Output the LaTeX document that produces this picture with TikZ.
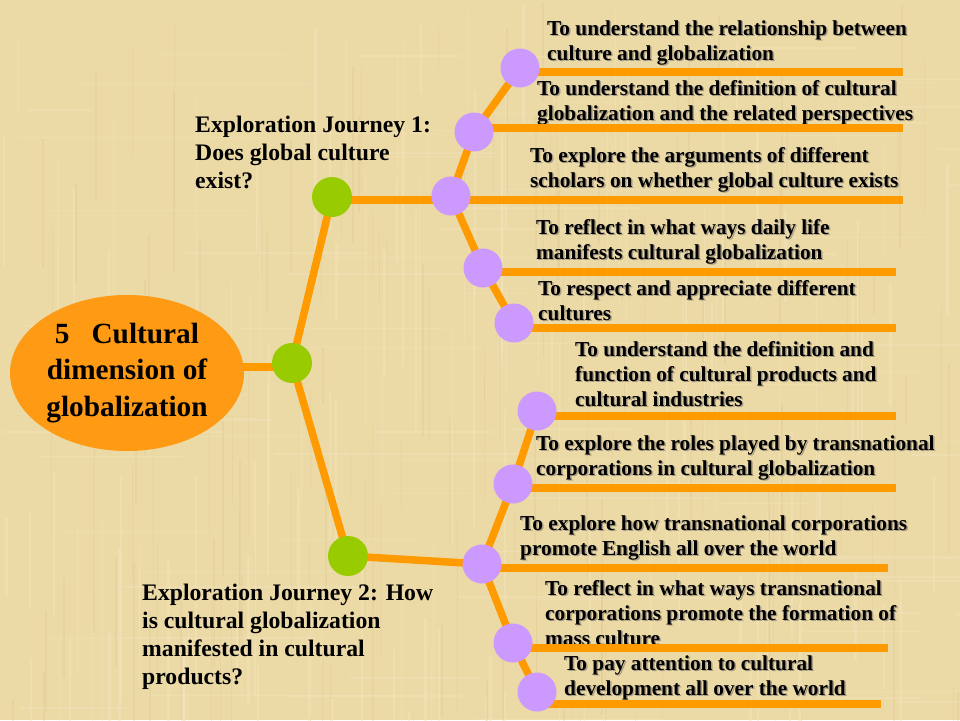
\documentclass[tikz,border=0pt]{standalone}
\usepackage{fontspec}
\setmainfont{Liberation Serif}
\usetikzlibrary{shapes.geometric}
\definecolor{bgc}{HTML}{EBD9A6}
\definecolor{bgl}{HTML}{F4E6BD}
\definecolor{bgd}{HTML}{D9C58E}
\definecolor{org}{HTML}{FF9A00}
\definecolor{ellc}{HTML}{FF9A14}
\definecolor{grn}{HTML}{99CC00}
\definecolor{pur}{HTML}{CC99FF}
\definecolor{shc}{HTML}{A99E85}
\newcommand\shad[1]{\leavevmode\rlap{\hspace{1.5pt}\raisebox{-1.5pt}{\color{shc}\begin{tabular}[t]{@{}l@{}}#1\end{tabular}}}\begin{tabular}[t]{@{}l@{}}#1\end{tabular}}
\newcommand\plainlines[1]{\begin{tabular}[t]{@{}l@{}}#1\end{tabular}}
\pgfdeclarelayer{back}
\pgfdeclarelayer{textl}
\pgfdeclarelayer{linel}
\pgfsetlayers{back,textl,linel,main}
\begin{document}
\begin{tikzpicture}[x=1pt,y=-1pt,
  bar/.style={draw=org,line width=7.5pt},
  gdot/.style={circle,fill=grn,minimum size=40pt,inner sep=0pt},
  pdot/.style={circle,fill=pur,minimum size=39pt,inner sep=0pt},
  item/.style={anchor=base west,inner sep=0pt,font=\fontsize{21.3}{25}\selectfont\bfseries},
  journey/.style={anchor=base west,inner sep=0pt,font=\fontsize{23.7}{28}\selectfont\bfseries}]
\useasboundingbox (0,0) rectangle (960,720);
\begin{pgfonlayer}{back}
\fill[bgc] (0,0) rectangle (960,720);
\pgfmathsetseed{7}
\foreach \i in {1,...,140}{
  \pgfmathsetmacro{\xx}{rnd*960}
  \pgfmathsetmacro{\yy}{rnd*720}
  \pgfmathsetmacro{\ll}{60+rnd*200}
  \pgfmathsetmacro{\ww}{0.8+rnd*2}
  \draw[bgl,opacity=0.45,line width=\ww pt] (\xx,\yy) -- ++(0,\ll);
}
\foreach \i in {1,...,140}{
  \pgfmathsetmacro{\xx}{rnd*960}
  \pgfmathsetmacro{\yy}{rnd*720}
  \pgfmathsetmacro{\ll}{40+rnd*160}
  \pgfmathsetmacro{\ww}{0.6+rnd*1.5}
  \draw[bgd,opacity=0.25,line width=\ww pt] (\xx,\yy) -- ++(0,\ll);
}
\foreach \i in {1,...,90}{
  \pgfmathsetmacro{\xx}{rnd*960}
  \pgfmathsetmacro{\yy}{rnd*720}
  \pgfmathsetmacro{\ll}{60+rnd*200}
  \pgfmathsetmacro{\ww}{0.6+rnd*1.5}
  \draw[bgl,opacity=0.35,line width=\ww pt] (\xx,\yy) -- ++(\ll,0);
}
\end{pgfonlayer}

% ellipse and hubs
\node[ellipse,fill=ellc,minimum width=234pt,minimum height=156pt,inner sep=0pt,
  align=center,font=\fontsize{29.3}{36.5}\selectfont\bfseries] (ell) at (127,373)
  {5\hspace{0.75em}Cultural\\dimension of\\globalization};
\node[gdot] (root) at (292,363) {};
\node[gdot] (g1) at (332,197) {};
\node[gdot] (g2) at (348,556) {};

% top purple circles
\node[pdot] (p1) at (520,68) {};
\node[pdot] (p2) at (474,132) {};
\node[pdot] (p3) at (451,196) {};
\node[pdot] (p4) at (483,268) {};
\node[pdot] (p5) at (514,323) {};
% bottom purple circles
\node[pdot] (q1) at (537,411) {};
\node[pdot] (q2) at (513,484) {};
\node[pdot] (q3) at (482,564) {};
\node[pdot] (q4) at (513,643) {};
\node[pdot] (q5) at (537,692) {};

% bar end points
\coordinate (e1) at (903,72);
\coordinate (e2) at (903,128);
\coordinate (e3) at (903,200);
\coordinate (e4) at (896,272);
\coordinate (e5) at (896,328);
\coordinate (f1) at (896,416);
\coordinate (f2) at (896,488);
\coordinate (f3) at (888,568);
\coordinate (f4) at (888,648);
\coordinate (f5) at (881,704);

\begin{pgfonlayer}{linel}
\draw[bar] ([yshift=-4pt]root.center) -- ([yshift=-4pt]root.center -| ell.center);
\draw[bar] (root.center) -- (g1.center);
\draw[bar] (root.center) -- (g2.center);
\draw[bar] (g1.center |- e3) -- (e3);
\draw[bar] (p3.center) -- (p2.center) -- (p1.center);
\draw[bar] (p3.center) -- (p4.center) -- (p5.center);
\draw[bar] (p1.center |- e1) -- (e1);
\draw[bar] (p2.center |- e2) -- (e2);
\draw[bar] (p4.center |- e4) -- (e4);
\draw[bar] (p5.center |- e5) -- (e5);
\draw[bar] (g2.center) -- (q3.center);
\draw[bar] (q3.center) -- (q2.center) -- (q1.center);
\draw[bar] (q3.center) -- (q4.center) -- (q5.center);
\draw[bar] (q1.center |- f1) -- (f1);
\draw[bar] (q2.center |- f2) -- (f2);
\draw[bar] (q3.center |- f3) -- (f3);
\draw[bar] (q4.center |- f4) -- (f4);
\draw[bar] (q5.center |- f5) -- (f5);
\end{pgfonlayer}

\begin{pgfonlayer}{textl}
\node[journey] (j1) at (195,132) {\plainlines{Exploration Journey 1:\\Does global culture\\exist?}};
\node[journey] (j2) at (142,600) {\plainlines{Exploration Journey 2: How\\is cultural globalization\\manifested in cultural\\products?}};

\node[item] (t1) at (547,35) {\shad{To understand the relationship between\\culture and globalization}};
\node[item] (t2) at (537,95) {\shad{To understand the definition of cultural\\globalization and the related perspectives}};
\node[item] (t3) at (530,162) {\shad{To explore the arguments of different\\scholars on whether global culture exists}};
\node[item] (t4) at (536,234) {\shad{To reflect in what ways daily life\\manifests cultural globalization}};
\node[item] (t5) at (538,295) {\shad{To respect and appreciate different\\cultures}};

\node[item] (u1) at (575,356) {\shad{To understand the definition and\\function of cultural products and\\cultural industries}};
\node[item] (u2) at (536,450) {\shad{To explore the roles played by transnational\\corporations in cultural globalization}};
\node[item] (u3) at (520,530) {\shad{To explore how transnational corporations\\promote English all over the world}};
\node[item] (u4) at (545,595) {\shad{To reflect in what ways transnational\\corporations promote the formation of\\mass culture}};
\node[item] (u5) at (564,670) {\shad{To pay attention to cultural\\development all over the world}};
\end{pgfonlayer}
\end{tikzpicture}
\end{document}
